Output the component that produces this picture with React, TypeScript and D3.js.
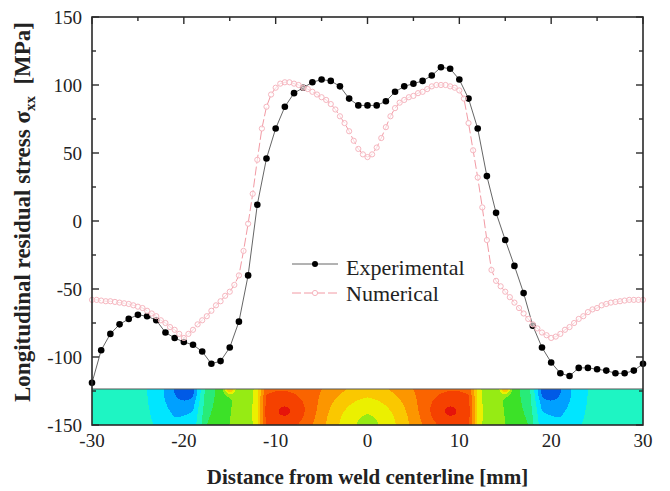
import React from 'react';
import * as d3 from 'd3';

// ---------- data ----------
const expX = [-30,-29,-28,-27,-26,-25,-24,-23,-22,-21,-20,-19,-18,-17,-16,-15,-14,-13,-12,-11,-10,-9,-8,-7,-6,-5,-4,-3,-2,-1,0,1,2,3,4,5,6,7,8,9,10,11,12,13,14,15,16,17,18,19,20,21,22,23,24,25,26,27,28,29,30];
const expY = [-119,-95,-83,-76,-72,-69,-70,-73,-82,-86,-89,-91,-96,-105,-103,-93,-74,-40,12,46,68,84,94,98,102,104,103,99,90,85,85,85,88,95,99,101,103,107,113,112,104,90,68,33,6,-14,-33,-53,-77,-93,-104,-112,-114,-108,-108,-109,-110,-112,-112,-110,-105];

const numX = [-30,-29.5,-29,-28.5,-28,-27.5,-27,-26.5,-26,-25.5,-25,-24.5,-24,-23.5,-23,-22.5,-22,-21.5,-21,-20.5,-20,-19.5,-19,-18.5,-18,-17.5,-17,-16.5,-16,-15.5,-15,-14.5,-14,-13.5,-13,-12.5,-12,-11.5,-11,-10.5,-10,-9.5,-9,-8.5,-8,-7.5,-7,-6.5,-6,-5.5,-5,-4.5,-4,-3.5,-3,-2.5,-2,-1.5,-1,-0.5,0,0.5,1,1.5,2,2.5,3,3.5,4,4.5,5,5.5,6,6.5,7,7.5,8,8.5,9,9.5,10,10.5,11,11.5,12,12.5,13,13.5,14,14.5,15,15.5,16,16.5,17,17.5,18,18.5,19,19.5,20,20.5,21,21.5,22,22.5,23,23.5,24,24.5,25,25.5,26,26.5,27,27.5,28,28.5,29,29.5,30];
const numY = [-58,-58,-58.5,-59,-59,-59.5,-60,-60.5,-61,-62,-63,-64,-66,-68,-70,-73,-75,-78,-80,-83,-86,-83,-80,-76,-73,-70,-66,-62,-59,-55,-52,-47,-40,-22,-2,20,45,68,84,93,98,101,102,102,101,100,98,97,95,93,91,89,86,82,77,72,66,59,53,49,47,49,54,61,69,77,83,87,89,91,92,94,95,97,99,100,100,100,99,98,96,90,72,52,32,10,-14,-36,-44,-48,-52,-56,-60,-64,-68,-72,-76,-79,-82,-84,-86,-85,-83,-80,-78,-75,-72,-70,-67,-65,-64,-62,-61,-60,-59.5,-59,-58.5,-58,-58,-58,-58];

const xTicks = [-30, -20, -10, 0, 10, 20, 30];
const yTicks = [-150, -100, -50, 0, 50, 100, 150];
const seriesNames = ['Experimental', 'Numerical'];

// colour strip (FE contour map) description
const stripBaseX = [0, 4, 5, 11, 11.6, 12, 12.5, 14, 16, 17.5, 18.3, 19, 21, 22, 24, 26, 30];
const stripBaseLevel = [9.4, 9.8, 10, 10.2, 8.5, 7, 6.4, 6, 5.3, 4.9, 3.6, 2.4, 2.2, 2.4, 3.0, 3.3, 3.3];
// blobs: [x(mm, mirrored), t (0 top..1 bottom), sx, st, amplitude]
const stripBlobs: number[][] = [
  [20, 0, 3, 0.8, -1.2],
  [19.8, 0, 0.9, 0.25, -1.6],
  [15, 0, 0.4, 0.1, 3],
  [8.8, 0.62, 1.8, 0.35, 1.6],
  [0, 1.05, 3.6, 0.8, -3.2],
];
const levelColors = [
  'rgb(0,90,230)', 'rgb(0,160,255)', 'rgb(0,230,255)', 'rgb(30,245,195)',
  'rgb(40,235,120)', 'rgb(60,225,40)', 'rgb(150,235,20)', 'rgb(235,240,0)',
  'rgb(250,200,0)', 'rgb(252,150,0)', 'rgb(250,100,0)', 'rgb(245,65,0)', 'rgb(230,20,10)',
];

// ---------- layout ----------
const W = 670, H = 491;
const L = 92, R = 643, T = 17, B = 425;
const stripTopPx = 389;

export default function App() {
  const x = d3.scaleLinear().domain([-30, 30]).range([L, R]);
  const y = d3.scaleLinear().domain([-150, 150]).range([B, T]);

  const expData = expX.map((v, i) => [v, expY[i]] as [number, number]);
  const numData = numX.map((v, i) => [v, numY[i]] as [number, number]);
  const line = d3.line<[number, number]>().x(d => x(d[0])).y(d => y(d[1]));

  // strip cells
  const base = d3.scaleLinear().domain(stripBaseX).range(stripBaseLevel).clamp(true);
  const field = (mm: number, t: number) => {
    const a = Math.abs(mm);
    let v = base(a);
    for (const [bx, bt, sx, st, amp] of stripBlobs) {
      const dx = a - bx, dt = t - bt;
      v += amp * Math.exp(-(dx * dx) / (2 * sx * sx) - (dt * dt) / (2 * st * st));
    }
    return Math.max(0, Math.min(12, Math.round(v)));
  };
  const cw = 1, ch = 1;
  const cells: { x: number; y: number; w: number; h: number; c: string }[] = [];
  const rows = Math.round((B - stripTopPx) / ch);
  for (let r = 0; r < rows; r++) {
    const t = (r + 0.5) / rows;
    let runStart = L, runLevel = -1;
    for (let px = L; px <= R; px += cw) {
      const lv = px < R ? field(x.invert(px + cw / 2), t) : -2;
      if (lv !== runLevel) {
        if (runLevel >= 0) cells.push({ x: runStart, y: stripTopPx + r * ch, w: px - runStart, h: ch, c: levelColors[runLevel] });
        runStart = px; runLevel = lv;
      }
    }
  }

  const leftTicks = d3.range(-150, 151, 25);
  const topTicks = d3.range(-30, 31, 5);
  const axisColor = '#2a2a2a';
  const serif = '"Liberation Serif", "Times New Roman", serif';

  return (
    <svg width={W} height={H} style={{ display: 'block', position: 'absolute', left: 0, top: 0 }} fontFamily={serif}>
      <rect x={0} y={0} width={W} height={H} fill="#fff" />
      {/* contour strip */}
      <g shapeRendering="crispEdges">
        {cells.map((c, i) => (
          <rect key={i} x={c.x} y={c.y} width={c.w + 0.3} height={c.h + 0.3} fill={c.c} />
        ))}
      </g>
      <line x1={L} x2={R} y1={stripTopPx} y2={stripTopPx} stroke="#555" strokeWidth={1} />

      {/* experimental */}
      <path d={line(expData) || ''} fill="none" stroke="#666" strokeWidth={1} />
      {expData.map((d, i) => (
        <circle key={'e' + i} cx={x(d[0])} cy={y(d[1])} r={3.3} fill="#000" />
      ))}
      {/* numerical */}
      <path d={line(numData) || ''} fill="none" stroke="#f29aa4" strokeWidth={1} strokeDasharray="9,3" />
      {numData.map((d, i) => (
        <circle key={'n' + i} cx={x(d[0])} cy={y(d[1])} r={2.6} fill="#fff" fillOpacity={0.6} stroke="#f6b6bf" strokeWidth={1} />
      ))}

      {/* frame */}
      <rect x={L} y={T} width={R - L} height={B - T} fill="none" stroke={axisColor} strokeWidth={1.6} />
      {leftTicks.map(v => {
        const len = v % 50 === 0 ? 7 : 4;
        return (
          <g key={'lt' + v}>
            <line x1={L} x2={L + len} y1={y(v)} y2={y(v)} stroke={axisColor} strokeWidth={1.4} />
            <line x1={R} x2={R - len} y1={y(v)} y2={y(v)} stroke={axisColor} strokeWidth={1.4} />
          </g>
        );
      })}
      {topTicks.map(v => {
        const len = v % 10 === 0 ? 7 : 4;
        return <line key={'tt' + v} x1={x(v)} x2={x(v)} y1={T} y2={T + len} stroke={axisColor} strokeWidth={1.4} />;
      })}

      {/* tick labels */}
      {yTicks.map(v => (
        <text key={'yl' + v} x={L - 10} y={y(v)} dy="0.35em" textAnchor="end" fontSize={19} fill="#222">{v}</text>
      ))}
      {xTicks.map(v => (
        <text key={'xl' + v} x={x(v)} y={447} textAnchor="middle" fontSize={19} fill="#222">{v}</text>
      ))}

      {/* axis titles */}
      <text x={(L + R) / 2} y={484} textAnchor="middle" fontSize={21} fontWeight="bold" fill="#222">
        Distance from weld centerline [mm]
      </text>
      <text transform={`translate(30,${212}) rotate(-90)`} textAnchor="middle" fontSize={23} fontWeight="bold" fill="#222">
        Longitudinal residual stress σ<tspan fontSize={15} dy={5}>xx</tspan><tspan dy={-5}>{'\u00a0\u00a0'}[MPa]</tspan>
      </text>

      {/* legend */}
      <g>
        <line x1={292} x2={338} y1={264} y2={264} stroke="#666" strokeWidth={1} />
        <circle cx={315} cy={264} r={3} fill="#000" />
        <text x={346} y={275} fontSize={22} fill="#222">{seriesNames[0]}</text>
        <line x1={292} x2={338} y1={293} y2={293} stroke="#f29aa4" strokeWidth={1} strokeDasharray="9,3" />
        <circle cx={315} cy={293} r={2.6} fill="#fff" stroke="#f6b6bf" strokeWidth={1} />
        <text x={346} y={301} fontSize={22} fill="#222">{seriesNames[1]}</text>
      </g>
    </svg>
  );
}
